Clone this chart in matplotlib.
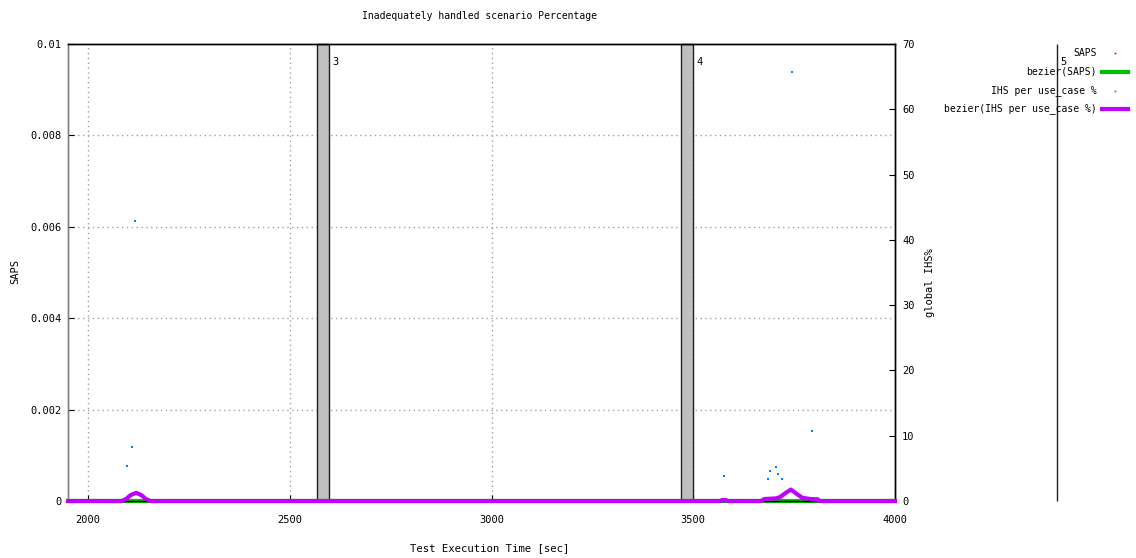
import matplotlib
matplotlib.use("Agg")
import matplotlib.pyplot as plt
from matplotlib.lines import Line2D
import matplotlib.transforms as mtransforms

plt.rcParams['font.family'] = ['DejaVu Sans Mono']
plt.rcParams['font.size'] = 7

# ---- data ----
title = "Inadequately handled scenario Percentage"
xlabel = "Test Execution Time [sec]"
ylabel_left = "SAPS"
ylabel_right = "global IHS%"

x_ticks = [2000, 2500, 3000, 3500, 4000]
y_left_ticks = [0, 0.002, 0.004, 0.006, 0.008, 0.01]
y_left_ticklabels = ["0", "0.002", "0.004", "0.006", "0.008", "0.01"]
y_right_ticks = [0, 10, 20, 30, 40, 50, 60, 70]

# SAPS points (none visible) and bezier(SAPS)
saps_x = []
saps_y = []
saps_bez_x = [1950, 4000]
saps_bez_y = [0, 0]

# IHS per use_case % (right axis)
ihs_x = [2097, 2109, 2117, 3576, 3685, 3690, 3705, 3710, 3720, 3744, 3794]
ihs_y = [5.4, 8.3, 42.9, 3.8, 3.4, 4.6, 5.2, 4.1, 3.4, 65.7, 10.7]

# bezier(IHS per use_case %)
ihs_bez_x = [1950, 2084, 2095, 2105, 2119, 2132, 2142, 2154, 3566, 3572, 3580, 3586,
             3668, 3676, 3690, 3705, 3715, 3728, 3742, 3756, 3770, 3790, 3809, 3812, 4000]
ihs_bez_y = [0, 0, 0.35, 0.9, 1.25, 0.9, 0.35, 0, 0, 0.15, 0.15, 0,
             0, 0.3, 0.35, 0.4, 0.6, 1.2, 1.75, 1.1, 0.5, 0.3, 0.25, 0, 0]

# marker bars
bar_starts = [2566, 3470, 4401]
bar_ends = [2598, 3500, 4402]
bar_labels = ["3", "4", "5"]

# ---- figure ----
fig = plt.figure(figsize=(11.36, 5.58), dpi=100)
ax = fig.add_axes([68/1136, 1-501/558, (895-68)/1136, (501-44)/558])
ax2 = ax.twinx()

ax.set_xlim(1950, 4000)
ax.set_ylim(0, 0.01)
ax2.set_ylim(0, 70)

# grid
for xv in x_ticks[:-1]:
    ax.axvline(xv, color="#a0a0a0", lw=1, ls=(0, (1, 2.5)), zorder=1)
for yv in y_left_ticks[1:-1]:
    ax.axhline(yv, color="#a0a0a0", lw=1, ls=(0, (1, 2.5)), zorder=1)

# bars
blend = mtransforms.blended_transform_factory(ax.transData, ax.transAxes)
for s, e, lab in zip(bar_starts, bar_ends, bar_labels):
    ax.axvspan(s, e, ymin=0, ymax=1, facecolor="#c0c0c0", edgecolor="#202020",
               lw=1, zorder=2, clip_on=False)
    ax.text(e + 8, (501-62)/457, lab, transform=blend, ha="left", va="center",
            fontsize=7.5, clip_on=False)

# series
ax.plot(saps_x, saps_y, ls="none", marker="s", ms=1.2, color="#ff0000", zorder=3)
ax.plot(saps_bez_x, saps_bez_y, color="#00c000", lw=3, zorder=3, clip_on=False)
ax2.plot(ihs_x, ihs_y, ls="none", marker="s", ms=1.5, mew=0, color="#0080ff", zorder=3)
ax2.plot(ihs_bez_x, ihs_bez_y, color="#c000ff", lw=3, zorder=4, clip_on=False,
         solid_joinstyle="round")

# axes styling
ax.set_xticks(x_ticks)
ax.set_xticklabels([str(v) for v in x_ticks])
ax.set_yticks(y_left_ticks)
ax.set_yticklabels(y_left_ticklabels)
ax2.set_yticks(y_right_ticks)
ax2.set_yticklabels([str(v) for v in y_right_ticks])
ax.tick_params(axis="x", direction="in", length=4, pad=10, labelsize=7.5)
ax.tick_params(axis="y", direction="in", length=4, pad=4.5, labelsize=7.5)
ax2.tick_params(axis="y", direction="in", length=4, pad=5, labelsize=7.5)
ax.tick_params(top=False)

for sp in ax.spines.values():
    sp.set_color("black")
    sp.set_linewidth(1)
for sp in ax2.spines.values():
    sp.set_color("black")
    sp.set_linewidth(1)
ax.spines["left"].set_color("#808080")
ax2.spines["left"].set_color("#808080")

ax.patch.set_visible(False)
ax2.set_zorder(ax.get_zorder() + 1)
ax2.patch.set_visible(False)

# labels
fig.text(480/1136, 1-16/558, title, ha="center", va="center", fontsize=7)
fig.text(490/1136, 1-548/558, xlabel, ha="center", va="center", fontsize=7.7)
fig.text(15/1136, 1-272/558, ylabel_left, ha="center", va="center", rotation=90, fontsize=7.5)
fig.text(930/1136, 1-283/558, ylabel_right, ha="center", va="center", rotation=90, fontsize=7.5)

# legend (manual, gnuplot-style)
leg_labels = ["SAPS", "bezier(SAPS)", "IHS per use_case %", "bezier(IHS per use_case %)"]
leg_y = [53, 72, 91, 109]
leg_styles = [("pt", "#ff0000"), ("ln", "#00c000"), ("pt", "#0080ff"), ("ln", "#c000ff")]
for lab, yy, (kind, col) in zip(leg_labels, leg_y, leg_styles):
    fy = 1 - yy/558
    fig.text(1097/1136, fy, lab, ha="right", va="center", fontsize=7)
    if kind == "ln":
        fig.add_artist(Line2D([1102/1136, 1128/1136], [fy, fy], color=col, lw=3))
    else:
        fig.add_artist(Line2D([1115/1136], [fy], ls="none", marker="s", ms=1.2,
                              mew=0, color=col))

fig.savefig("out.png", dpi=100)
